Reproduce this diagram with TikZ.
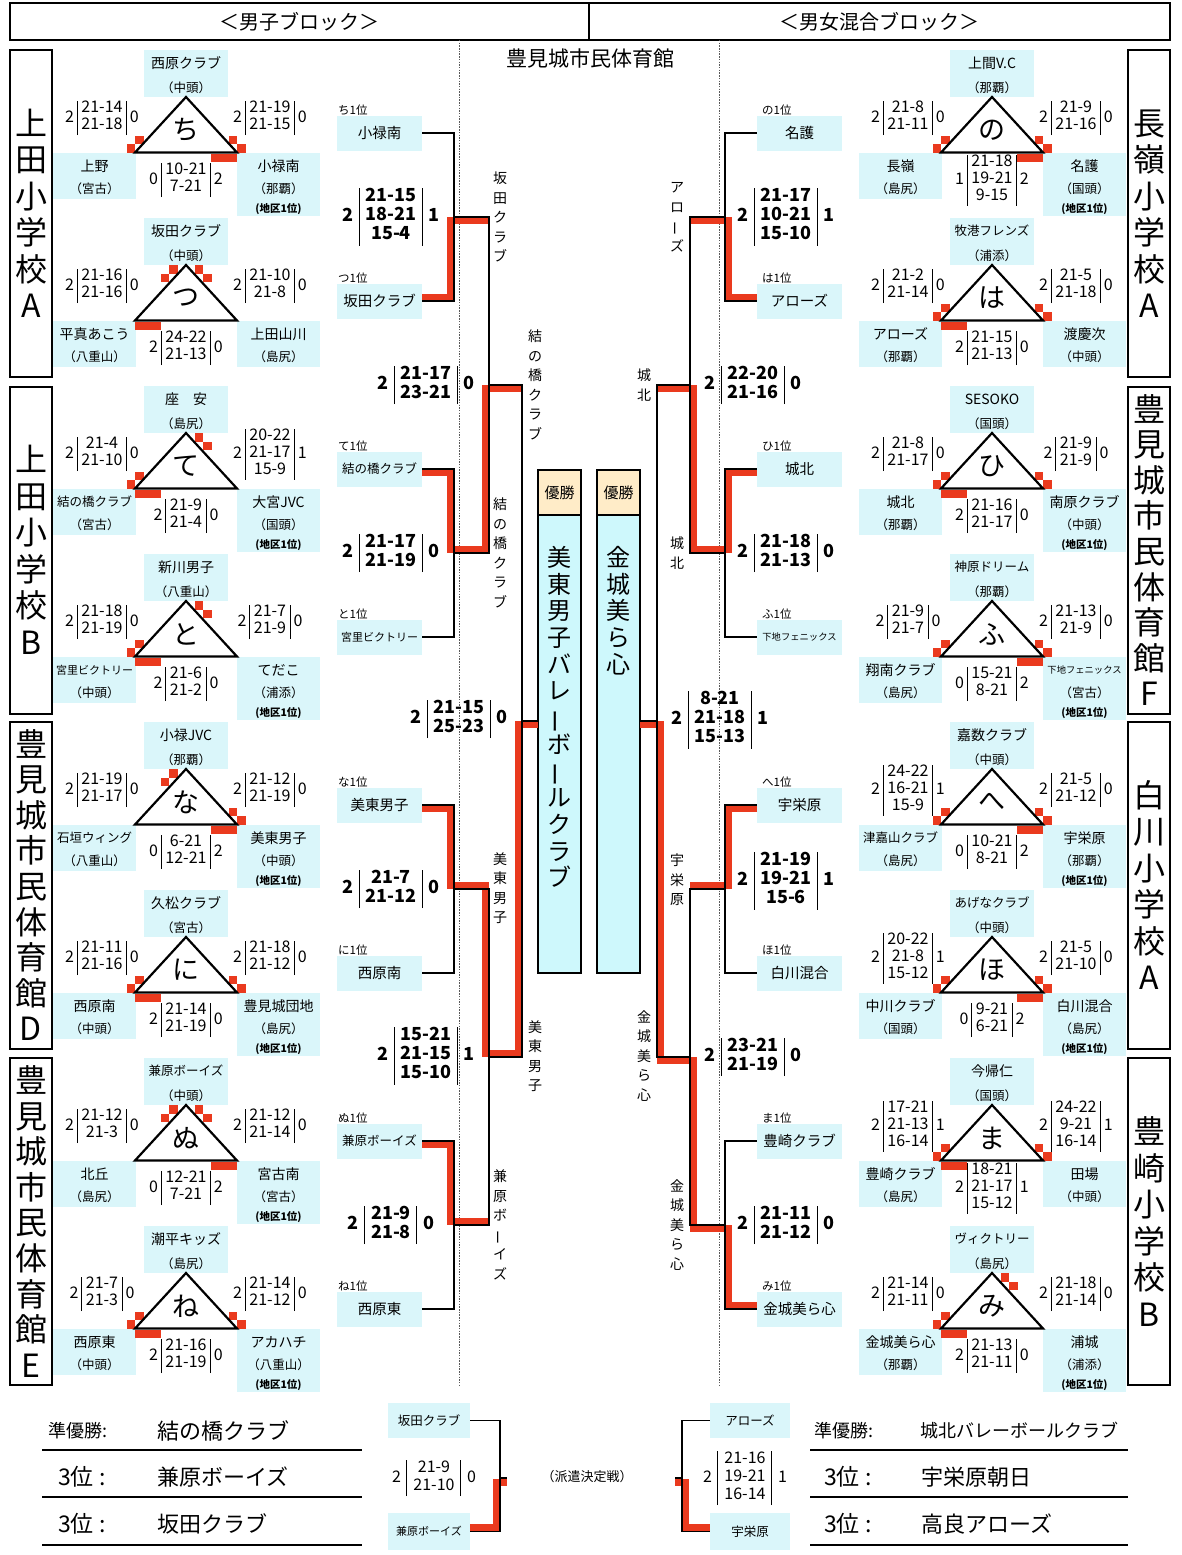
\documentclass[tikz,border=0pt]{standalone}
\usepackage{fontspec}
\setmainfont{Noto Sans CJK JP}
\definecolor{tb}{RGB}{218,246,250}
\definecolor{cb}{RGB}{206,248,252}
\definecolor{yusho}{RGB}{255,236,200}
\definecolor{rd}{RGB}{234,58,30}
\newcommand\fsz[2]{\fontsize{#1}{#2}\selectfont}
\newcommand\tatebo{\rotatebox[origin=c]{90}{ー}}
\newcommand\pscore[3]{\begin{tabular}{@{}r@{\hspace{3pt}}|@{\hspace{4pt}}c@{\hspace{4pt}}|@{\hspace{3pt}}l@{}}#1&\begin{tabular}{@{}c@{}}#2\end{tabular}&#3\end{tabular}}
\newcommand\bscore[3]{\begin{tabular}{@{}r@{\hspace{6pt}}|@{\hspace{6pt}}c@{\hspace{6pt}}|@{\hspace{6pt}}l@{}}#1&\begin{tabular}{@{}c@{}}#2\end{tabular}&#3\end{tabular}}
\newcommand\six{\fsz{12.5}{14}}
\newcommand\seven{\fsz{11}{13}}
\newcommand\eight{\fsz{9.3}{11}}
\tikzset{
 tbox/.style={fill=tb, inner sep=0pt, minimum width=84, minimum height=47, draw=none},
 nm/.style={inner sep=0pt, font=\fsz{14}{16}},
 rg/.style={inner sep=0pt, font=\fsz{12.5}{14}},
 ck/.style={inner sep=0pt, font=\bfseries\fsz{10.5}{12}},
 tri/.style={line width=2.2, line join=miter},
 lett/.style={inner sep=0pt, font=\fsz{27}{27}},
 psc/.style={inner sep=0pt, font=\fsz{16}{17}\setlength\arrayrulewidth{0.9pt}},
 bsc/.style={inner sep=0pt, font=\bfseries\fsz{18}{19}\setlength\arrayrulewidth{1.1pt}},
 msc/.style={inner sep=0pt, font=\fsz{16}{18}\setlength\arrayrulewidth{1pt}},
 bbox/.style={fill=tb, inner sep=0pt, minimum width=85, minimum height=35, font=\fsz{14.5}{16}},
 rk/.style={inner sep=0pt, anchor=west, font=\fsz{11.5}{13}},
 vl/.style={inner sep=0pt, align=center, font=\fsz{14}{19.5}},
 blk/.style={line width=1.6},
 redl/.style={rd, line width=7, line join=miter},
 gbox/.style={draw, line width=2, inner sep=0pt, minimum width=42, minimum height=327, align=center},
 dotl/.style={gray!70!black, line width=0.8, dash pattern=on 1.5pt off 1.2pt},
 lst/.style={anchor=west, inner sep=0pt},
}
\newcommand\poolset[3]{\gdef\PID{#1}\gdef\PX{#2}\gdef\PY{#3}}
\newcommand\ptop[2]{\node[tbox] (\PID-T) at (\PX+133,\PY+23.5) {};
 \node[nm] (\PID-Tn) at (\PX+133,\PY+13) {#1};
 \node[rg] (\PID-Tr) at (\PX+133,\PY+38) {#2};}
\newcommand\pleft[2]{\node[tbox, minimum width=83, minimum height=46.5] (\PID-L) at (\PX+41.5,\PY+125.75) {};
 \node[nm] (\PID-Ln) at (\PX+41.5,\PY+116) {#1};
 \node[rg] (\PID-Lr) at (\PX+41.5,\PY+139) {#2};}
\newcommand\pright[2]{\node[tbox, minimum width=83, minimum height=46.5] (\PID-R) at (\PX+225.5,\PY+125.75) {};
 \node[nm] (\PID-Rn) at (\PX+225.5,\PY+116) {#1};
 \node[rg] (\PID-Rr) at (\PX+225.5,\PY+139) {#2};}
\newcommand\prightc[2]{\node[tbox, minimum width=83, minimum height=63.5] (\PID-R) at (\PX+225.5,\PY+134.25) {};
 \node[nm] (\PID-Rn) at (\PX+225.5,\PY+116) {#1};
 \node[rg] (\PID-Rr) at (\PX+225.5,\PY+139) {#2};
 \node[ck] (\PID-Rc) at (\PX+225.5,\PY+159) {(地区1位)};}
\newcommand\pL[3]{\node[psc] (\PID-ls) at (\PX+49,\PY+68) {\pscore{#1}{#2}{#3}};}
\newcommand\pR[3]{\node[psc] (\PID-rs) at (\PX+217,\PY+68) {\pscore{#1}{#2}{#3}};}
\newcommand\pB[3]{\node[psc] (\PID-bs) at (\PX+133,\PY+130) {\pscore{#1}{#2}{#3}};}
\newcommand\sq[2]{\fill[rd] (#1,#2) rectangle ++(8.5,8.5);}
\newcommand\mBL{\sq{\PX+73.5}{\PY+94}\sq{\PX+82}{\PY+85.5}}
\newcommand\mBR{\sq{\PX+175.5}{\PY+85.5}\sq{\PX+184}{\PY+94}}
\newcommand\mTL{\sq{\PX+116}{\PY+47}\sq{\PX+107.5}{\PY+55.5}}
\newcommand\mTR{\sq{\PX+141.5}{\PY+47}\sq{\PX+150}{\PY+55.5}}
\newcommand\mbarL{\fill[rd] (\PX+82,\PY+104) rectangle ++(26,7.5);}
\newcommand\mbarR{\fill[rd] (\PX+158,\PY+104) rectangle ++(26,7.5);}
\newcommand\pooltri[2]{#2
 \draw[tri] (\PX+82,\PY+102.5) -- (\PX+133,\PY+47) -- (\PX+184,\PY+102.5) -- cycle;
 \node[lett] (\PID-k) at (\PX+133,\PY+80) {#1};}
\begin{document}
\begin{tikzpicture}[x=1pt,y=-1pt]
\useasboundingbox (0,0) rectangle (1182,1555);
\fill[white] (0,0) rectangle (1182,1555);
% header
\node[draw, line width=2, inner sep=0pt, minimum width=579, minimum height=37, font=\fsz{20}{22}] (hL) at (299.5,21.5) {＜男子ブロック＞};
\node[draw, line width=2, inner sep=0pt, minimum width=581, minimum height=37, font=\fsz{20}{22}] (hR) at (879.5,21.5) {＜男女混合ブロック＞};
\node[inner sep=0pt, font=\fsz{21}{23}] (title) at (590,58) {豊見城市民体育館};
% dotted lines
\draw[dotl] (459,40) -- (459,1387);
\draw[dotl] (719,40) -- (719,1387);
% group boxes
\node[gbox, font=\fsz{32}{36.5}] (gLA) at (31,213.5) {上\\田\\小\\学\\校\\A};
\node[gbox, font=\fsz{32}{36.5}] (gLB) at (31,550) {上\\田\\小\\学\\校\\B};
\node[gbox, font=\fsz{32}{35.6}] (gLD) at (31,885) {豊\\見\\城\\市\\民\\体\\育\\館\\D};
\node[gbox, font=\fsz{32}{35.6}] (gLE) at (31,1221.5) {豊\\見\\城\\市\\民\\体\\育\\館\\E};
\node[gbox, font=\fsz{32}{36.5}] (gRA) at (1149,213.5) {長\\嶺\\小\\学\\校\\A};
\node[gbox, font=\fsz{32}{35.6}] (gRF) at (1149,550) {豊\\見\\城\\市\\民\\体\\育\\館\\F};
\node[gbox, font=\fsz{32}{36.5}] (gRW) at (1149,885) {白\\川\\小\\学\\校\\A};
\node[gbox, font=\fsz{32}{36.5}] (gRB) at (1149,1221.5) {豊\\崎\\小\\学\\校\\B};
% ===== left pools
\poolset{chi}{53}{50}
\ptop{西原クラブ}{（中頭）}\pleft{上野}{（宮古）}\prightc{小禄南}{（那覇）}
\pL{2}{21-14\\21-18}{0}\pR{2}{21-19\\21-15}{0}\pB{0}{10-21\\7-21}{2}
\pooltri{ち}{\mBL\mBR\mbarR}
\poolset{tsu}{53}{218}
\ptop{坂田クラブ}{（中頭）}\pleft{平真あこう}{（八重山）}\pright{上田山川}{（島尻）}
\pL{2}{21-16\\21-16}{0}\pR{2}{21-10\\21-8}{0}\pB{2}{24-22\\21-13}{0}
\pooltri{つ}{\mTL\mTR\mbarL}
\poolset{te}{53}{386}
\ptop{座　安}{（島尻）}\pleft{{\six 結の橋クラブ}}{（宮古）}\prightc{大宮JVC}{（国頭）}
\pL{2}{21-4\\21-10}{0}\pR{2}{20-22\\21-17\\15-9}{1}\pB{2}{21-9\\21-4}{0}
\pooltri{て}{\mTR\mBL\mbarL}
\poolset{to}{53}{554}
\ptop{新川男子}{（八重山）}\pleft{{\seven 宮里ビクトリー}}{（中頭）}\prightc{てだこ}{（浦添）}
\pL{2}{21-18\\21-19}{0}\pR{2}{21-7\\21-9}{0}\pB{2}{21-6\\21-2}{0}
\pooltri{と}{\mTR\mBL\mbarL}
\poolset{na}{53}{722}
\ptop{小禄JVC}{（那覇）}\pleft{{\six 石垣ウィング}}{（八重山）}\prightc{美東男子}{（中頭）}
\pL{2}{21-19\\21-17}{0}\pR{2}{21-12\\21-19}{0}\pB{0}{6-21\\12-21}{2}
\pooltri{な}{\mTL\mBR\mbarR}
\poolset{ni}{53}{890}
\ptop{久松クラブ}{（宮古）}\pleft{西原南}{（中頭）}\prightc{豊見城団地}{（島尻）}
\pL{2}{21-11\\21-16}{0}\pR{2}{21-18\\21-12}{0}\pB{2}{21-14\\21-19}{0}
\pooltri{に}{\mBL\mBR\mbarL}
\poolset{nu}{53}{1058}
\ptop{{\six 兼原ボーイズ}}{（中頭）}\pleft{北丘}{（島尻）}\prightc{宮古南}{（宮古）}
\pL{2}{21-12\\21-3}{0}\pR{2}{21-12\\21-14}{0}\pB{0}{12-21\\7-21}{2}
\pooltri{ぬ}{\mTL\mTR\mbarR}
\poolset{ne}{53}{1226}
\ptop{潮平キッズ}{（島尻）}\pleft{西原東}{（中頭）}\prightc{アカハチ}{（八重山）}
\pL{2}{21-7\\21-3}{0}\pR{2}{21-14\\21-12}{0}\pB{2}{21-16\\21-19}{0}
\pooltri{ね}{\mBL\mBR\mbarL}
% ===== right pools
\poolset{no}{859}{50}
\ptop{上間V.C}{（那覇）}\pleft{長嶺}{（島尻）}\prightc{名護}{（国頭）}
\pL{2}{21-8\\21-11}{0}\pR{2}{21-9\\21-16}{0}\pB{1}{21-18\\19-21\\9-15}{2}
\pooltri{の}{\mBL\mBR\mbarR}
\poolset{ha}{859}{218}
\ptop{{\six 牧港フレンズ}}{（浦添）}\pleft{アローズ}{（那覇）}\pright{渡慶次}{（中頭）}
\pL{2}{21-2\\21-14}{0}\pR{2}{21-5\\21-18}{0}\pB{2}{21-15\\21-13}{0}
\pooltri{は}{\mBL\mBR\mbarL}
\poolset{hi}{859}{386}
\ptop{SESOKO}{（国頭）}\pleft{城北}{（那覇）}\prightc{南原クラブ}{（中頭）}
\pL{2}{21-8\\21-17}{0}\pR{2}{21-9\\21-9}{0}\pB{2}{21-16\\21-17}{0}
\pooltri{ひ}{\mBL\mBR\mbarL}
\poolset{fu}{859}{554}
\ptop{{\six 神原ドリーム}}{（那覇）}\pleft{翔南クラブ}{（島尻）}\prightc{{\eight 下地フェニックス}}{（宮古）}
\pL{2}{21-9\\21-7}{0}\pR{2}{21-13\\21-9}{0}\pB{0}{15-21\\8-21}{2}
\pooltri{ふ}{\mBL\mBR\mbarR}
\poolset{he}{859}{722}
\ptop{嘉数クラブ}{（中頭）}\pleft{{\six 津嘉山クラブ}}{（島尻）}\prightc{宇栄原}{（那覇）}
\pL{2}{24-22\\16-21\\15-9}{1}\pR{2}{21-5\\21-12}{0}\pB{0}{10-21\\8-21}{2}
\pooltri{へ}{\mBL\mBR\mbarR}
\poolset{ho}{859}{890}
\ptop{{\six あげなクラブ}}{（中頭）}\pleft{中川クラブ}{（国頭）}\prightc{白川混合}{（島尻）}
\pL{2}{20-22\\21-8\\15-12}{1}\pR{2}{21-5\\21-10}{0}\pB{0}{9-21\\6-21}{2}
\pooltri{ほ}{\mBL\mBR\mbarR}
\poolset{ma}{859}{1058}
\ptop{今帰仁}{（国頭）}\pleft{豊崎クラブ}{（島尻）}\pright{田場}{（中頭）}
\pL{2}{17-21\\21-13\\16-14}{1}\pR{2}{24-22\\9-21\\16-14}{1}\pB{2}{18-21\\21-17\\15-12}{1}
\pooltri{ま}{\mBL\mBR\mbarL}
\poolset{mi}{859}{1226}
\ptop{{\six ヴィクトリー}}{（島尻）}\pleft{金城美ら心}{（那覇）}\prightc{浦城}{（浦添）}
\pL{2}{21-14\\21-11}{0}\pR{2}{21-18\\21-14}{0}\pB{2}{21-13\\21-11}{0}
\pooltri{み}{\mTR\mBL\mbarL}
% ===== bracket team boxes (left)
\node[bbox] (L1) at (379.5,133) {小禄南};
\node[bbox] (L2) at (379.5,301) {坂田クラブ};
\node[bbox] (L3) at (379.5,469) {{\six 結の橋クラブ}};
\node[bbox] (L4) at (379.5,637) {{\seven 宮里ビクトリー}};
\node[bbox] (L5) at (379.5,805) {美東男子};
\node[bbox] (L6) at (379.5,973) {西原南};
\node[bbox] (L7) at (379.5,1141) {{\six 兼原ボーイズ}};
\node[bbox] (L8) at (379.5,1309) {西原東};
\node[rk] (L1r) at (338,110) {ち1位};
\node[rk] (L2r) at (338,278) {つ1位};
\node[rk] (L3r) at (338,446) {て1位};
\node[rk] (L4r) at (338,614) {と1位};
\node[rk] (L5r) at (338,782) {な1位};
\node[rk] (L6r) at (338,950) {に1位};
\node[rk] (L7r) at (338,1118) {ぬ1位};
\node[rk] (L8r) at (338,1286) {ね1位};
% right
\node[bbox] (R1) at (799.5,133) {名護};
\node[bbox] (R2) at (799.5,301) {アローズ};
\node[bbox] (R3) at (799.5,469) {城北};
\node[bbox] (R4) at (799.5,637) {{\eight 下地フェニックス}};
\node[bbox] (R5) at (799.5,805) {宇栄原};
\node[bbox] (R6) at (799.5,973) {白川混合};
\node[bbox] (R7) at (799.5,1141) {豊崎クラブ};
\node[bbox] (R8) at (799.5,1309) {金城美ら心};
\node[rk] (R1r) at (762,110) {の1位};
\node[rk] (R2r) at (762,278) {は1位};
\node[rk] (R3r) at (762,446) {ひ1位};
\node[rk] (R4r) at (762,614) {ふ1位};
\node[rk] (R5r) at (762,782) {へ1位};
\node[rk] (R6r) at (762,950) {ほ1位};
\node[rk] (R7r) at (762,1118) {ま1位};
\node[rk] (R8r) at (762,1286) {み1位};
% champion boxes
\node[draw, fill=yusho, line width=1.5, inner sep=0pt, minimum width=43, minimum height=45, font=\fsz{15}{16}] (chLh) at (559.5,492.5) {優勝};
\node[draw, fill=cb, line width=1.5, inner sep=0pt, minimum width=43, minimum height=458] (chLb) at (559.5,744) {};
\node[inner sep=0pt, anchor=north, align=center, font=\fsz{24}{26.7}] (chLt) at (559.5,546) {美\\東\\男\\子\\バ\\レ\\\tatebo\\ボ\\\tatebo\\ル\\ク\\ラ\\ブ};
\node[draw, fill=yusho, line width=1.5, inner sep=0pt, minimum width=43, minimum height=45, font=\fsz{15}{16}] (chRh) at (618.5,492.5) {優勝};
\node[draw, fill=cb, line width=1.5, inner sep=0pt, minimum width=43, minimum height=458] (chRb) at (618.5,744) {};
\node[inner sep=0pt, anchor=north, align=center, font=\fsz{24}{26.7}] (chRt) at (618.5,546) {金\\城\\美\\ら\\心};
\coordinate (fL) at (538,721);
\coordinate (fR) at (640,721);
% red winner paths
\draw[redl] (422,297.5) -- (450.5,297.5) -- (450.5,220.5) -- (489,220.5);
\draw[redl] (422,472.5) -- (450.5,472.5) -- (450.5,549.5) -- (485.5,549.5) -- (485.5,388.5) -- (522,388.5);
\draw[redl] (422,808.5) -- (450.5,808.5) -- (450.5,885.5) -- (485.5,885.5) -- (485.5,1053.5) -- (518.5,1053.5) -- (518.5,724.5) -- (538,724.5);
\draw[redl] (422,1144.5) -- (450.5,1144.5) -- (450.5,1221.5) -- (489,1221.5);
\draw[redl] (757,297.5) -- (728.5,297.5) -- (728.5,220.5) -- (690,220.5);
\draw[redl] (757,472.5) -- (728.5,472.5) -- (728.5,549.5) -- (693.5,549.5) -- (693.5,388.5) -- (657,388.5);
\draw[redl] (757,808.5) -- (728.5,808.5) -- (728.5,885.5) -- (690,885.5);
\draw[redl] (757,1305.5) -- (728.5,1305.5) -- (728.5,1228.5) -- (693.5,1228.5) -- (693.5,1060.5) -- (660.5,1060.5) -- (660.5,724.5) -- (640,724.5);
% black bracket lines left
\draw[blk] (L1.east) -- ++(32,0) |- (L2.east);
\draw[blk] (L3.east) -- ++(32,0) |- (L4.east);
\draw[blk] (L5.east) -- ++(32,0) |- (L6.east);
\draw[blk] (L7.east) -- ++(32,0) |- (L8.east);
\draw[blk] (454,217) -- (489,217) -- (489,553) -- (454,553);
\draw[blk] (454,889) -- (489,889) -- (489,1225) -- (454,1225);
\draw[blk] (489,385) -- (522,385) -- (522,1057) -- (489,1057);
\draw[blk] (522,721) -- (fL);
% right
\draw[blk] (R1.west) -- ++(-32,0) |- (R2.west);
\draw[blk] (R3.west) -- ++(-32,0) |- (R4.west);
\draw[blk] (R5.west) -- ++(-32,0) |- (R6.west);
\draw[blk] (R7.west) -- ++(-32,0) |- (R8.west);
\draw[blk] (725,217) -- (690,217) -- (690,553) -- (725,553);
\draw[blk] (725,889) -- (690,889) -- (690,1225) -- (725,1225);
\draw[blk] (690,385) -- (657,385) -- (657,1057) -- (690,1057);
\draw[blk] (657,721) -- (fR);
% bracket labels
\node[vl] (vL1) at (500,217) {坂\\田\\ク\\ラ\\ブ};
\node[vl] (vL2) at (535,385) {結\\の\\橋\\ク\\ラ\\ブ};
\node[vl] (vL3) at (500,553) {結\\の\\橋\\ク\\ラ\\ブ};
\node[vl] (vL4) at (500,888) {美\\東\\男\\子};
\node[vl] (vL5) at (535,1056) {美\\東\\男\\子};
\node[vl] (vL6) at (500,1225) {兼\\原\\ボ\\\tatebo\\イ\\ズ};
\node[vl] (vR1) at (677,217) {ア\\ロ\\\tatebo\\ズ};
\node[vl] (vR2) at (644,385) {城\\北};
\node[vl] (vR3) at (677,553) {城\\北};
\node[vl] (vR4) at (677,880) {宇\\栄\\原};
\node[vl] (vR5) at (644,1056) {金\\城\\美\\ら\\心};
\node[vl] (vR6) at (677,1225) {金\\城\\美\\ら\\心};
% bracket scores
\node[bsc] (sL1) at (391,217) {\bscore{2}{21-15\\18-21\\15-4}{1}};
\node[bsc] (sL2) at (426,385) {\bscore{2}{21-17\\23-21}{0}};
\node[bsc] (sL3) at (391,553) {\bscore{2}{21-17\\21-19}{0}};
\node[bsc] (sL4) at (459,719) {\bscore{2}{21-15\\25-23}{0}};
\node[bsc] (sL5) at (391,889) {\bscore{2}{21-7\\21-12}{0}};
\node[bsc] (sL6) at (426,1056) {\bscore{2}{15-21\\21-15\\15-10}{1}};
\node[bsc] (sL7) at (391,1225) {\bscore{2}{21-9\\21-8}{0}};
\node[bsc] (sR1) at (786,217) {\bscore{2}{21-17\\10-21\\15-10}{1}};
\node[bsc] (sR2) at (753,385) {\bscore{2}{22-20\\21-16}{0}};
\node[bsc] (sR3) at (786,553) {\bscore{2}{21-18\\21-13}{0}};
\node[bsc] (sR4) at (720,720) {\bscore{2}{8-21\\21-18\\15-13}{1}};
\node[bsc] (sR5) at (786,881) {\bscore{2}{21-19\\19-21\\15-6}{1}};
\node[bsc] (sR6) at (753,1057) {\bscore{2}{23-21\\21-19}{0}};
\node[bsc] (sR7) at (786,1225) {\bscore{2}{21-11\\21-12}{0}};
% ===== bottom section
\node[lst, font=\fsz{18}{20}] (s1l) at (48,1431) {準優勝:};
\node[lst, font=\fsz{22}{24}] (s1n) at (157,1431) {結の橋クラブ};
\node[lst, font=\fsz{23}{25}] (s2l) at (58,1477) {3位\hspace{6pt}:};
\node[lst, font=\fsz{22}{24}] (s2n) at (157,1477) {兼原ボーイズ};
\node[lst, font=\fsz{23}{25}] (s3l) at (58,1524) {3位\hspace{6pt}:};
\node[lst, font=\fsz{22}{24}] (s3n) at (157,1524) {坂田クラブ};
\draw[blk] (42,1450) -- (362,1450);
\draw[blk] (42,1497) -- (362,1497);
\draw[blk] (42,1545) -- (362,1545);
\node[lst, font=\fsz{18}{20}] (t1l) at (814,1431) {準優勝:};
\node[lst, font=\fsz{18}{20}] (t1n) at (920,1431) {城北バレーボールクラブ};
\node[lst, font=\fsz{23}{25}] (t2l) at (824,1477) {3位\hspace{6pt}:};
\node[lst, font=\fsz{22}{24}] (t2n) at (921,1477) {宇栄原朝日};
\node[lst, font=\fsz{23}{25}] (t3l) at (824,1524) {3位\hspace{6pt}:};
\node[lst, font=\fsz{22}{24}] (t3n) at (921,1524) {高良アローズ};
\draw[blk] (810,1450) -- (1128,1450);
\draw[blk] (810,1497) -- (1128,1497);
\draw[blk] (810,1545) -- (1128,1545);
% mini brackets
\node[bbox, minimum width=82, font=\fsz{12.5}{14}] (m1) at (429,1420.5) {坂田クラブ};
\node[bbox, minimum width=82, minimum height=37, font=\fsz{11}{13}] (m2) at (429,1531.5) {兼原ボーイズ};
\node[bbox, minimum width=80, font=\fsz{12.5}{14}] (m3) at (750,1420.5) {アローズ};
\node[bbox, minimum width=80, minimum height=37, font=\fsz{12.5}{14}] (m4) at (750,1531.5) {宇栄原};
\draw[redl] (470,1527) -- (496.5,1527) -- (496.5,1482) -- (507,1482);
\draw[redl] (710,1527) -- (685.5,1527) -- (685.5,1482) -- (675,1482);
\draw[blk] (m1.east) -- ++(30,0) |- (m2.east);
\draw[blk] (500,1478) -- ++(7,0);
\draw[blk] (m3.west) -- ++(-28,0) |- (m4.west);
\draw[blk] (682,1478) -- ++(-7,0);
\node[msc] (ms1) at (434,1478) {\bscore{2}{21-9\\21-10}{0}};
\node[msc] (ms2) at (745,1478) {\bscore{2}{21-16\\19-21\\16-14}{1}};
\node[inner sep=0pt, font=\fsz{13}{15}] (haken) at (587,1477) {（派遣決定戦）};
\end{tikzpicture}
\end{document}
